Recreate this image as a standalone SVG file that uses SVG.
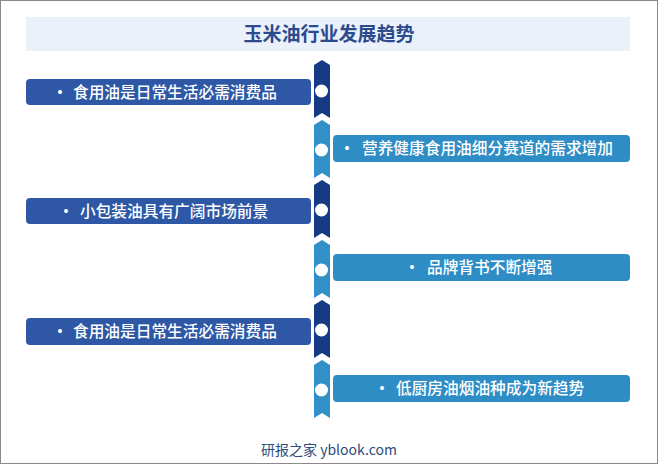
<svg xmlns="http://www.w3.org/2000/svg" width="658" height="465" viewBox="0 0 658 465">
<style>
.frame{fill:#fff;stroke:#8a8a8a;stroke-width:1}
.tbg{fill:#eaf1fb}
.title{font-family:"Liberation Serif","Noto Sans CJK SC",serif;font-size:19px;font-weight:bold;fill:#2b4b8c;text-anchor:middle}
.dark{fill:#173a84}
.light{fill:#3290c8}
.lbox{fill:#2e58a5}
.rbox{fill:#2f8dc6}
.dot{fill:#fff}
.lab{font-family:"Noto Sans CJK SC",sans-serif;font-size:15.7px;font-weight:500;fill:#fff}
.bul{font-family:"Liberation Sans",sans-serif;font-size:14px;fill:#fff;text-anchor:middle}
.foot{font-family:"Noto Sans CJK SC","Liberation Sans",sans-serif;font-size:14px;fill:#2d4c7c;text-anchor:middle}
</style>
<rect class="frame" x="0.5" y="0.5" width="657" height="463"/>
<g id="title">
<rect class="tbg" x="26" y="17" width="604" height="34"/>
<text class="title" x="329" y="41">玉米油行业发展趋势</text>
</g>
<g id="spine">
<polygon class="dark" points="314,65 322,60 330,65 330,118 322,113 314,118"/>
<polygon class="light" points="314,125 322,120 330,125 330,178 322,173 314,178"/>
<polygon class="dark" points="314,185 322,180 330,185 330,238 322,233 314,238"/>
<polygon class="light" points="314,245 322,240 330,245 330,298 322,293 314,298"/>
<polygon class="dark" points="314,305 322,300 330,305 330,358 322,353 314,358"/>
<polygon class="light" points="314,365 322,360 330,365 330,418 322,413 314,418"/>
<circle class="dot" cx="321.5" cy="91" r="6.5"/>
<circle class="dot" cx="321.5" cy="150" r="6.5"/>
<circle class="dot" cx="321.5" cy="210" r="6.5"/>
<circle class="dot" cx="321.5" cy="270" r="6.5"/>
<circle class="dot" cx="321.5" cy="330" r="6.5"/>
<circle class="dot" cx="321.5" cy="390" r="6.5"/>
</g>
<g id="node1">
<rect class="lbox" x="26" y="79" width="285" height="26" rx="4"/>
<text class="bul" x="60" y="97">•</text>
<text class="lab" x="73" y="98">食用油是日常生活必需消费品</text>
</g>
<g id="node2">
<rect class="rbox" x="333" y="135" width="297" height="27" rx="4"/>
<text class="bul" x="347" y="153">•</text>
<text class="lab" x="362" y="154">营养健康食用油细分赛道的需求增加</text>
</g>
<g id="node3">
<rect class="lbox" x="26" y="198" width="285" height="26" rx="4"/>
<text class="bul" x="66" y="216">•</text>
<text class="lab" x="80" y="217">小包装油具有广阔市场前景</text>
</g>
<g id="node4">
<rect class="rbox" x="333" y="254" width="297" height="27" rx="4"/>
<text class="bul" x="412" y="272">•</text>
<text class="lab" x="427" y="273">品牌背书不断增强</text>
</g>
<g id="node5">
<rect class="lbox" x="26" y="318" width="285" height="27" rx="4"/>
<text class="bul" x="60" y="336">•</text>
<text class="lab" x="73" y="337">食用油是日常生活必需消费品</text>
</g>
<g id="node6">
<rect class="rbox" x="333" y="375" width="297" height="27" rx="4"/>
<text class="bul" x="382" y="393">•</text>
<text class="lab" x="396" y="394">低厨房油烟油种成为新趋势</text>
</g>
<text class="foot" x="329" y="455">研报之家 yblook.com</text>
</svg>
